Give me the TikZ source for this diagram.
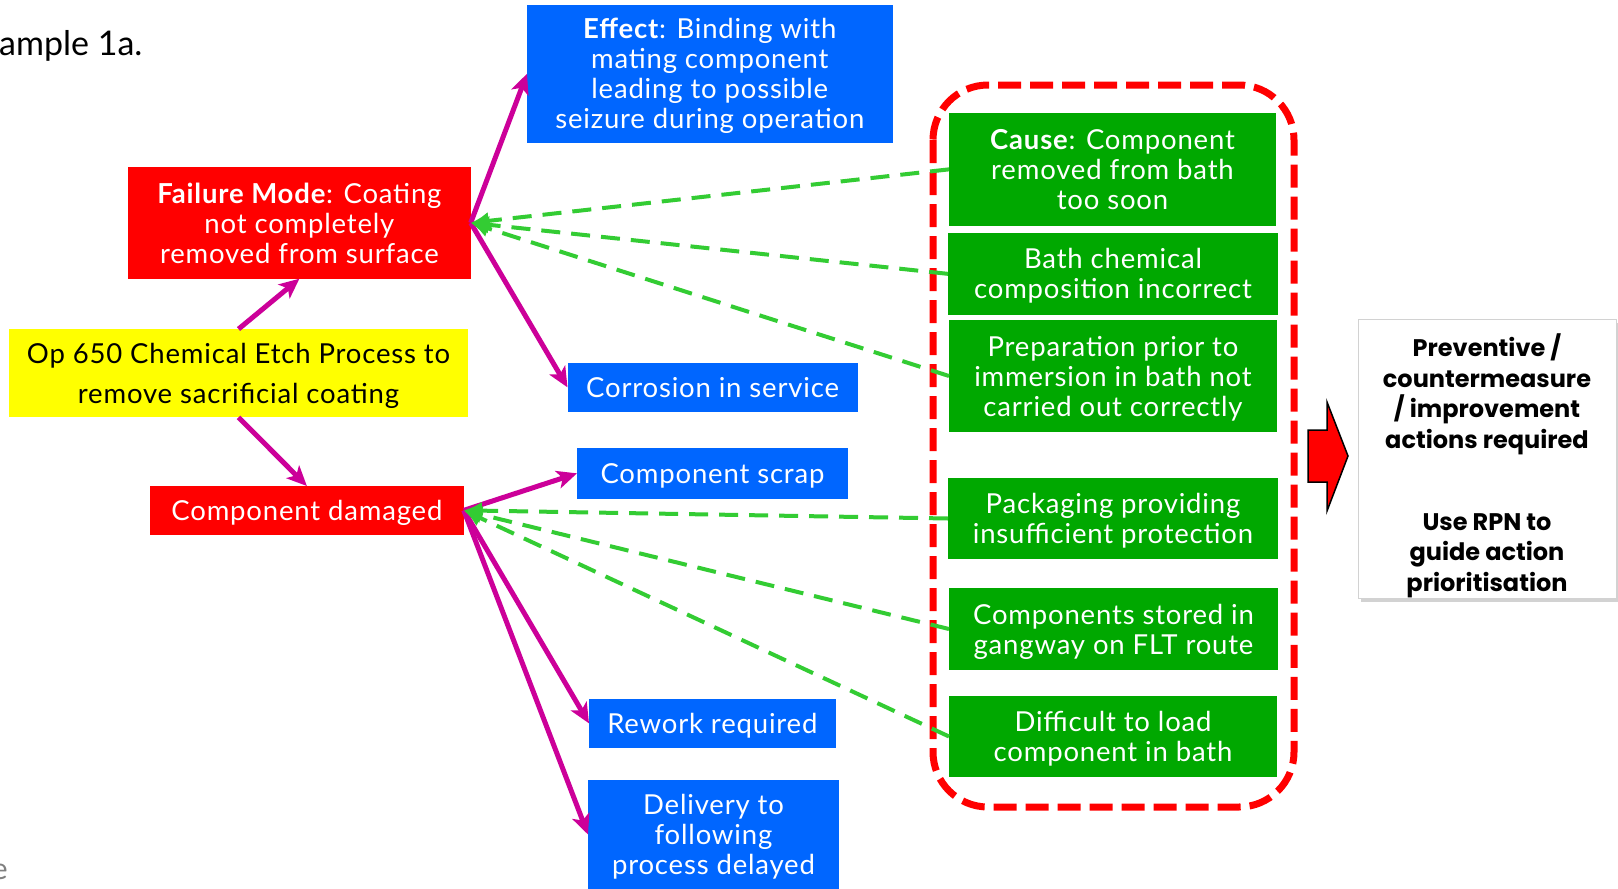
\documentclass[tikz,border=0pt]{standalone}
\usepackage{fontspec}
\setmainfont{Lato}[LetterSpace=3]
\newfontfamily\titlefont{Lato}
\newfontfamily\actfont{Poppins}
\usetikzlibrary{arrows.meta,shadows}

\definecolor{fmred}{HTML}{FF0000}
\definecolor{effblue}{HTML}{0066FF}
\definecolor{causegreen}{HTML}{00A800}
\definecolor{opyellow}{HTML}{FFFF00}
\definecolor{linkmag}{HTML}{CC0099}
\definecolor{dashgreen}{HTML}{33CC33}

\begin{document}
\begin{tikzpicture}[x=1pt,y=-1pt,
  box/.style={inner sep=0pt, outer sep=0pt, align=center, text depth=0pt,
    font=\fontsize{27.5pt}{30pt}\selectfont},
  sz/.style 2 args={minimum width=#1pt, minimum height=#2pt},
  redbox/.style={box, fill=fmred, text=white},
  bluebox/.style={box, fill=effblue, text=white},
  greenbox/.style={box, fill=causegreen, text=white},
  opbox/.style={box, fill=opyellow, text=black,
    font=\fontsize{27.5pt}{40pt}\selectfont},
  actbox/.style={box, fill=white, draw=gray!35, line width=1pt,
    drop shadow={shadow xshift=3pt, shadow yshift=-4pt, opacity=0.35},
    font=\actfont\bfseries\fontsize{24pt}{30.5pt}\selectfont},
  link/.style={draw=linkmag, line width=5pt,
    -{Stealth[length=20pt,width=18pt,inset=5pt]}},
  causeline/.style={draw=dashgreen, line width=4pt,
    dash pattern=on 19pt off 11pt, -{Latex[length=18pt,width=18pt]}},
  frame/.style={draw=fmred, line width=7pt, dash pattern=on 23pt off 9pt,
    rounded corners=55pt},
]
\fill[white] (0,0) rectangle (1618,889);
\useasboundingbox (0,0) rectangle (1618,889);

% heading and footer fragments
\node[anchor=base west, inner sep=0pt, font=\titlefont\fontsize{34pt}{38pt}\selectfont]
  (title) at (-1,55) {ample 1a.};
\node[anchor=base east, inner sep=0pt, text=gray,
  font=\titlefont\fontsize{30pt}{32pt}\selectfont] (foot) at (8,879) {e};

% process step and failure modes
\node[opbox, sz={459}{88.3}] (op) at (238.5,373.2)
  {Op 650 Chemical Etch Process to\\remove sacrificial coating};
\node[redbox, sz={342.6}{111.7}] (fm) at (299.4,222.85)
  {\textbf{Failure Mode}: Coating\\not completely\\removed from surface};
\node[redbox, sz={313.8}{48.7}] (cd) at (306.9,510.35) {Component damaged};

% effects
\node[bluebox, sz={365.6}{137.5}] (eff) at (709.8,73.75)
  {\textbf{Effect}: Binding with\\mating component\\leading to possible\\seizure during operation};
\node[bluebox, sz={290.2}{48.7}] (cor) at (712.6,387.35) {Corrosion in service};
\node[bluebox, sz={271}{50.7}] (scr) at (712.5,473.35) {Component scrap};
\node[bluebox, sz={246.7}{48.7}] (rew) at (712.35,723.35) {Rework required};
\node[bluebox, sz={251}{109}] (del) at (713.5,834.5)
  {Delivery to\\following\\process delayed};

% frame round the causes
\draw[frame] (933,85) rectangle (1294,807);

% links from process step to failure modes and effects
\draw[link] (op.north) -- (fm.south);
\draw[link] (op.south) -- (cd.north);
\draw[link] (fm.east) -- (eff.west);
\draw[link] (fm.east) -- (cor.west);
\draw[link] (cd.east) -- (scr.west);
\draw[link] (cd.east) -- (rew.west);
\draw[link] (cd.east) -- (del.west);

% causes
\node[greenbox, sz={327}{112.7}] (c1) at (1112.5,169.35)
  {\textbf{Cause}: Component\\removed from bath\\too soon};
\node[greenbox, sz={330}{81.7}] (c2) at (1113,273.85)
  {Bath chemical\\composition incorrect};
\node[greenbox, sz={328}{112}] (c3) at (1113,376)
  {Preparation prior to\\immersion in bath not\\carried out correctly};
\node[greenbox, sz={330}{81}] (c4) at (1113,518.5)
  {Packaging providing\\insufficient protection};
\node[greenbox, sz={329}{82}] (c5) at (1113.5,629)
  {Components stored in\\gangway on FLT route};
\node[greenbox, sz={328}{81}] (c6) at (1113,736.5)
  {Difficult to load\\component in bath};

\draw[causeline] (c1.west) -- (fm.east);
\draw[causeline] (c2.west) -- (fm.east);
\draw[causeline] (c3.west) -- (fm.east);
\draw[causeline] (c4.west) -- (cd.east);
\draw[causeline] (c5.west) -- (cd.east);
\draw[causeline] (c6.west) -- (cd.east);

% block arrow and actions
\filldraw[fill=fmred, draw=black, line width=1.5pt, line join=miter]
  (1308,430) -- (1327,430) -- (1327,402) -- (1348,456) -- (1327,511)
  -- (1327,482) -- (1308,482) -- cycle;
\node[actbox, sz={258}{279}] (act) at (1487,458.5)
  {\rule{0pt}{31pt}Preventive /\\countermeasure\\/ improvement\\actions required\\[51.7pt]Use RPN to\\guide action\\prioritisation};
\end{tikzpicture}
\end{document}
